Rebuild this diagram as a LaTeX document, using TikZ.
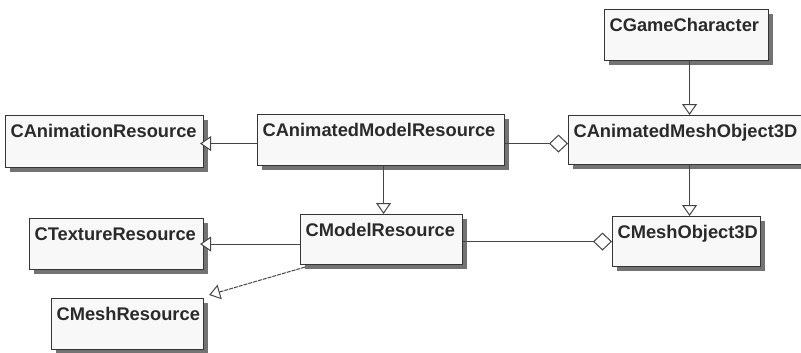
\documentclass[tikz,border=0pt]{standalone}
\usepackage{fontspec}
\setmainfont{Liberation Sans}
\usetikzlibrary{arrows.meta,shadows}

\definecolor{boxfill}{HTML}{F8F8F8}
\definecolor{boxline}{HTML}{353535}
\definecolor{txt}{HTML}{2A2A2A}
\definecolor{conn}{HTML}{454545}

\tikzset{
  cls/.style={draw=boxline, line width=1.1pt, fill=boxfill, anchor=north west,
    inner xsep=5pt, inner ysep=0pt, text height=21.5pt, align=left,
    text=txt, font=\fontsize{18.3}{20}\selectfont\bfseries,
    drop shadow={shadow xshift=4pt, shadow yshift=-4pt, fill=black, opacity=0.55}},
  gen/.style={draw=conn, line width=1pt,
    -{Triangle[open, length=11pt, width=15pt, fill=white]}},
  agg/.style={draw=conn, line width=1pt,
    -{Diamond[open, length=19pt, width=18pt, fill=white]}},
  real/.style={gen, dash pattern=on 4pt off 1pt}
}

\begin{document}
\begin{tikzpicture}[x=1pt, y=-1pt]
  \useasboundingbox (0,0) rectangle (801,353);
  \clip (0,0) rectangle (801,353);
  \fill[white] (0,0) rectangle (801,353);

  % classes
  \node[cls, text width=188pt, text depth=30.5pt] (anim) at (5,115) {CAnimationResource};
  \node[cls, text width=237pt, text depth=29.5pt] (amr) at (257,114) {CAnimatedModelResource};
  \node[cls, text width=154pt, text depth=29.5pt] (gc) at (604,9) {CGameCharacter};
  \node[cls, text width=228pt, text depth=27.5pt] (amo) at (568,115) {CAnimatedMeshObject3D};
  \node[cls, text width=164pt, text depth=29.5pt] (tex) at (29,218) {CTextureResource};
  \node[cls, text width=142pt, text depth=29.5pt] (mesh) at (51,298) {CMeshResource};
  \node[cls, text width=152pt, text depth=28.5pt] (model) at (300,214) {CModelResource};
  \node[cls, text width=138pt, text depth=28.5pt] (mo3d) at (612,216) {CMeshObject3D};

  % attachment points
  \coordinate (amrW) at ([yshift=-3.5pt]amr.west);
  \coordinate (amrE) at ([yshift=-3.5pt]amr.east);
  \coordinate (amrS) at ([xshift=2.5pt]amr.south);
  \coordinate (gcS) at ([xshift=3pt]gc.south);
  \coordinate (amoS) at ([xshift=2pt]amo.south);
  \coordinate (modelE) at ([yshift=-2pt]model.east);
  \coordinate (modelSW) at ([shift={(5pt,-2pt)}]model.south west);
  \coordinate (meshNE) at ([shift={(5pt,3pt)}]mesh.north east);

  % generalisations
  \draw[gen, shorten >=-4pt] (amrW) -- (amrW -| anim.east);
  \draw[gen] (amrS) -- (amrS |- model.north);
  \draw[gen] (gcS) -- (gcS |- amo.north);
  \draw[gen] (amoS) -- (amoS |- mo3d.north);
  \draw[gen, shorten >=-4pt] (tex.east -| model.west) -- (tex.east);
  \draw[real] (modelSW) -- (meshNE);

  % aggregations
  \draw[agg] (amrE) -- (amrE -| amo.west);
  \draw[agg] (modelE) -- (modelE -| mo3d.west);
\end{tikzpicture}
\end{document}
